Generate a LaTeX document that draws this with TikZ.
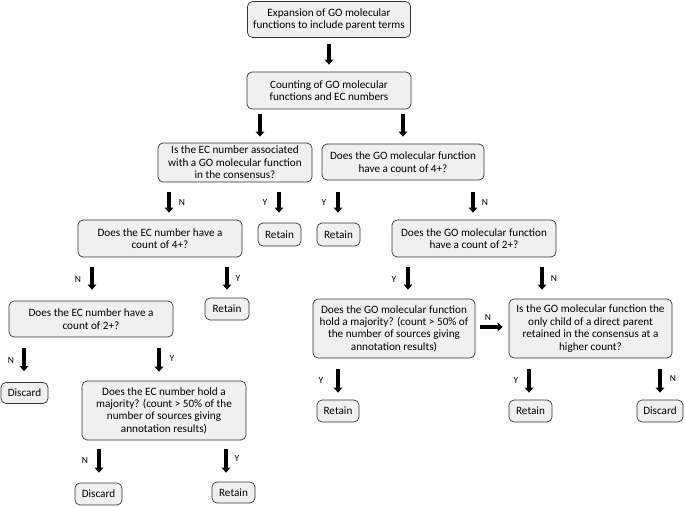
\documentclass[tikz,border=0pt]{standalone}
\usepackage{fontspec}
\setmainfont{Carlito}
\usetikzlibrary{arrows.meta}
\begin{document}
\begin{tikzpicture}[x=1pt,y=-1pt,
  box/.style={draw=black!80, line width=0.7pt, rounded corners=5pt, fill=black!6,
    align=center, inner sep=0pt, font=\fontsize{11.2}{12.4}\selectfont},
  bigarr/.style={line width=3.6pt, -{Triangle[width=8.5pt,length=5pt]}},
  lab/.style={inner sep=0pt, font=\fontsize{9.5}{10}\selectfont}]
\useasboundingbox[fill=white] (0,0) rectangle (685,506);
% boxes
\node[box, minimum width=163pt, minimum height=36pt] (b1) at (329,19.5) {Expansion of GO molecular\\functions to include parent terms};
\node[box, minimum width=164pt, minimum height=37pt] (b2) at (329,90.5) {Counting of GO molecular\\functions and EC numbers};
\node[box, minimum width=154pt, minimum height=39pt] (b3) at (235,162.5) {Is the EC number associated\\with a GO molecular function\\in the consensus?};
\node[box, minimum width=162pt, minimum height=36pt] (b4) at (403,162) {Does the GO molecular function\\have a count of 4+?};
\node[box, minimum width=43pt, minimum height=23pt] (r1) at (279.5,234.5) {Retain};
\node[box, minimum width=164pt, minimum height=37pt] (b5) at (160,238.5) {Does the EC number have a\\count of 4+?};
\node[box, minimum width=43pt, minimum height=23pt] (r4) at (338.5,234.5) {Retain};
\node[box, minimum width=164pt, minimum height=37pt] (b8) at (474,238.5) {Does the GO molecular function\\have a count of 2+?};
\node[box, minimum width=44pt, minimum height=22pt] (r2) at (227,309) {Retain};
\node[box, minimum width=164pt, minimum height=36pt] (b6) at (91,319) {Does the EC number have a\\count of 2+?};
\node[box, minimum width=162pt, minimum height=59pt] (b9) at (394,328.5) {Does the GO molecular function\\hold a majority? (count > 50\% of\\the number of sources giving\\annotation results)};
\node[box, minimum width=163pt, minimum height=59pt] (b10) at (590.5,328.5) {Is the GO molecular function the\\only child of a direct parent\\retained in the consensus at a\\higher count?};
\node[box, minimum width=47pt, minimum height=21pt] (d1) at (24.5,393) {Discard};
\node[box, minimum width=164pt, minimum height=59pt] (b7) at (164,410.5) {Does the EC number hold a\\majority? (count > 50\% of the\\number of sources giving\\annotation results)};
\node[box, minimum width=42pt, minimum height=22pt] (r5) at (338,411) {Retain};
\node[box, minimum width=43pt, minimum height=22pt] (r6) at (530.5,411) {Retain};
\node[box, minimum width=46pt, minimum height=22pt] (d3) at (660,411) {Discard};
\node[box, minimum width=47pt, minimum height=22pt] (d2) at (98.5,494) {Discard};
\node[box, minimum width=43pt, minimum height=21pt] (r3) at (233.5,492.5) {Retain};
% arrow columns
\coordinate (x329) at (329,0);
\coordinate (x260) at (260,0);
\coordinate (x403) at (403,0);
\coordinate (x169) at (169,0);
\coordinate (x279) at (279,0);
\coordinate (x338) at (338,0);
\coordinate (x473) at (473,0);
\coordinate (x92) at (92,0);
\coordinate (x227) at (227,0);
\coordinate (x408) at (408,0);
\coordinate (x542) at (542,0);
\coordinate (x24) at (24,0);
\coordinate (x159) at (159,0);
\coordinate (x529) at (529,0);
\coordinate (x660) at (660,0);
\coordinate (x99) at (99,0);
\coordinate (x226) at (226,0);
% arrows
\draw[bigarr, shorten <=6pt, shorten >=7pt] (b1.south -| x329) -- (b2.north -| x329);
\draw[bigarr, shorten <=5pt, shorten >=6pt] (b2.south -| x260) -- (b3.north -| x260);
\draw[bigarr, shorten <=5pt, shorten >=7pt] (b2.south -| x403) -- (b4.north -| x403);
\draw[bigarr, shorten <=10pt, shorten >=7pt] (b3.south -| x169) -- (b5.north -| x169);
\draw[bigarr, shorten <=10pt, shorten >=10pt] (b3.south -| x279) -- (r1.north -| x279);
\draw[bigarr, shorten <=12pt, shorten >=10pt] (b4.south -| x338) -- (r4.north -| x338);
\draw[bigarr, shorten <=12pt, shorten >=7pt] (b4.south -| x473) -- (b8.north -| x473);
\draw[bigarr, shorten <=10pt, shorten >=11pt] (b5.south -| x92) -- (b6.north -| x92);
\draw[bigarr, shorten <=10pt, shorten >=8pt] (b5.south -| x227) -- (r2.north -| x227);
\draw[bigarr, shorten <=10pt, shorten >=9pt] (b8.south -| x408) -- (b9.north -| x408);
\draw[bigarr, shorten <=10pt, shorten >=9pt] (b8.south -| x542) -- (b10.north -| x542);
\draw[bigarr, shorten <=11pt, shorten >=11pt] (b6.south -| x24) -- (d1.north -| x24);
\draw[bigarr, shorten <=11pt, shorten >=9pt] (b6.south -| x159) -- (b7.north -| x159);
\draw[bigarr, shorten <=11pt, shorten >=7pt] (b9.south -| x338) -- (r5.north -| x338);
\draw[bigarr, shorten <=11pt, shorten >=7pt] (b10.south -| x529) -- (r6.north -| x529);
\draw[bigarr, shorten <=11pt, shorten >=7pt] (b10.south -| x660) -- (d3.north -| x660);
\draw[bigarr, shorten <=9pt, shorten >=10pt] (b7.south -| x99) -- (d2.north -| x99);
\draw[bigarr, shorten <=9pt, shorten >=9pt] (b7.south -| x226) -- (r3.north -| x226);
\draw[bigarr, shorten <=5pt, shorten >=6pt] ([yshift=1.5pt]b9.east) -- ([yshift=1.5pt]b10.west);
% labels
\node[lab] (l1) at (182,202) {N};
\node[lab] (l2) at (265,202) {Y};
\node[lab] (l3) at (324,202) {Y};
\node[lab] (l4) at (485,202) {N};
\node[lab] (l5) at (78,279) {N};
\node[lab] (l6) at (238,278) {Y};
\node[lab] (l7) at (394,279) {Y};
\node[lab] (l8) at (554,278) {N};
\node[lab] (l9) at (488,317) {N};
\node[lab] (l10) at (11,360) {N};
\node[lab] (l11) at (172,358) {Y};
\node[lab] (l12) at (321,380) {Y};
\node[lab] (l13) at (516,380) {Y};
\node[lab] (l14) at (673,378) {N};
\node[lab] (l15) at (85,460) {N};
\node[lab] (l16) at (237,458) {Y};
\end{tikzpicture}
\end{document}
